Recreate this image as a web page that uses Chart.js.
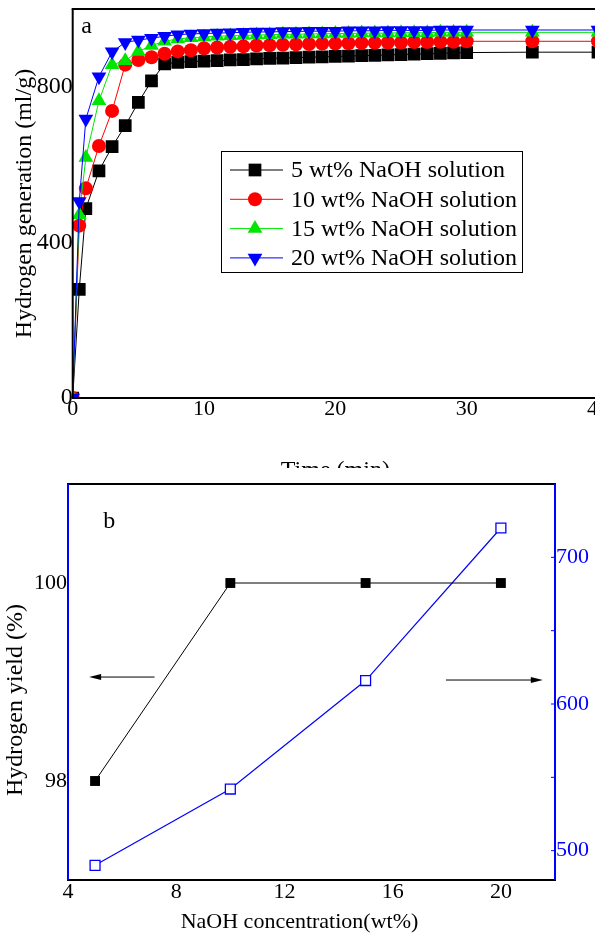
<!DOCTYPE html>
<html>
<head>
<meta charset="utf-8">
<script src="https://cdn.jsdelivr.net/npm/chart.js@4.4.1/dist/chart.umd.min.js"></script>
<style>
  html, body { margin: 0; padding: 0; background: #fff; overflow: hidden; }
  #page { position: relative; width: 595px; height: 938px; overflow: hidden; background: #fff; }
  #topWrap { position: absolute; left: 0; top: 0; }
  #botWrap { position: absolute; left: 0; top: 468px; background: #fff; }
  canvas { display: block; }
</style>
</head>
<body>
<div id="page">
  <div id="topWrap"><canvas id="chartA" width="620" height="490" style="width:620px;height:490px"></canvas></div>
  <div id="botWrap"><canvas id="chartB" width="640" height="470" style="width:640px;height:470px"></canvas></div>
</div>
<script>
// (a) hydrogen generation vs time
var timeMin = [0, 0.5, 1, 2, 3, 4, 5, 6, 7, 8, 9, 10, 11, 12, 13, 14, 15, 16, 17, 18, 19, 20,
               21, 22, 23, 24, 25, 26, 27, 28, 29, 30, 35, 40];
var naoh5  = [0, 279, 487, 584, 646, 700, 760, 815, 859, 863, 865, 866, 867, 869, 870, 872, 873, 874, 875, 876,
              877, 878, 879, 880, 881, 882, 883, 884, 885, 886, 887, 888, 889, 889];
var naoh10 = [0, 443, 539, 648, 738, 857, 869, 876, 885, 891, 894, 899, 901, 903, 904, 906, 907, 908, 909, 910,
              911, 911, 912, 913, 913, 914, 914, 915, 915, 916, 916, 917, 917, 917];
var naoh15 = [0, 471, 618, 764, 857, 867, 891, 906, 917, 923, 926, 928, 930, 931, 932, 933, 934, 935, 935, 936,
              936, 937, 937, 938, 938, 938, 939, 939, 939, 940, 940, 940, 940, 940];
var naoh20 = [0, 505, 717, 826, 890, 914, 920, 925, 930, 934, 936, 937, 938, 939, 940, 941, 941, 942, 942, 943,
              943, 943, 944, 944, 944, 945, 945, 945, 945, 946, 946, 946, 946, 946];
var seriesNames = ["5 wt% NaOH solution", "10 wt% NaOH solution", "15 wt% NaOH solution", "20 wt% NaOH solution"];

// (b) yield and rate vs NaOH concentration
var naohConc = [5, 10, 15, 20];
var h2Yield  = [98, 100, 100, 100];
var h2Rate   = [490, 542, 616, 720];

var serif = "'Liberation Serif', 'Times New Roman', serif";
Chart.defaults.font.family = serif;
Chart.defaults.color = "#000";

function pts(xs, ys) {
  return xs.map(function (x, i) { return { x: x, y: ys[i] }; });
}

// fixed axis sizes, no extra room for overhanging labels
function fixW(w) {
  return function (s) { s.width = w; s.paddingTop = 0; s.paddingBottom = 0; };
}
function fixH(h) {
  return function (s) { s.height = h; s.paddingLeft = 0; s.paddingRight = 0; };
}

// box round the plot + small inward ticks
var frameTicks = {
  id: "frameTicks",
  afterDatasetsDraw: function (chart, args, o) {
    var ctx = chart.ctx, a = chart.chartArea;
    ctx.save();
    ctx.lineWidth = 1;
    (o.ticks || []).forEach(function (t) {
      var sc = chart.scales[t.scale];
      ctx.strokeStyle = t.color;
      ctx.beginPath();
      sc.ticks.forEach(function (tk) {
        if (t.every && tk.value % t.every !== 0) return;
        var p = sc.getPixelForValue(tk.value);
        t.sides.forEach(function (s) {
          if (s === "bottom") { ctx.moveTo(p, a.bottom); ctx.lineTo(p, a.bottom - 4); }
          if (s === "top") { ctx.moveTo(p, a.top); ctx.lineTo(p, a.top + 4); }
          if (s === "left") { ctx.moveTo(a.left, p); ctx.lineTo(a.left + 4, p); }
          if (s === "right") { ctx.moveTo(a.right, p); ctx.lineTo(a.right - 4, p); }
        });
      });
      ctx.stroke();
    });
    ctx.lineWidth = 2;
    var c = o.colors;
    ctx.strokeStyle = c.top; ctx.beginPath(); ctx.moveTo(a.left - 1, a.top); ctx.lineTo(a.right + 1, a.top); ctx.stroke();
    ctx.strokeStyle = c.bottom; ctx.beginPath(); ctx.moveTo(a.left - 1, a.bottom); ctx.lineTo(a.right + 1, a.bottom); ctx.stroke();
    ctx.strokeStyle = c.left; ctx.beginPath(); ctx.moveTo(a.left, a.top); ctx.lineTo(a.left, a.bottom); ctx.stroke();
    ctx.strokeStyle = c.right; ctx.beginPath(); ctx.moveTo(a.right, a.top); ctx.lineTo(a.right, a.bottom); ctx.stroke();
    ctx.restore();
  }
};

// legend with a line through each marker
var lineLegend = {
  id: "lineLegend",
  afterDraw: function (chart, args, o) {
    if (!o.box) return;
    var ctx = chart.ctx, b = o.box;
    ctx.save();
    ctx.fillStyle = "#fff";
    ctx.fillRect(b.x, b.y, b.w, b.h);
    ctx.strokeStyle = "#000";
    ctx.lineWidth = 1;
    ctx.strokeRect(b.x + 0.5, b.y + 0.5, b.w, b.h);
    chart.data.datasets.forEach(function (ds, i) {
      var y = b.y + o.first + i * o.rowH;
      ctx.strokeStyle = ds.borderColor;
      ctx.lineWidth = 1;
      ctx.beginPath();
      ctx.moveTo(b.x + 9, y); ctx.lineTo(b.x + 62, y);
      ctx.stroke();
      ctx.fillStyle = ds.pointBackgroundColor;
      ctx.strokeStyle = ds.borderColor;
      Chart.helpers.drawPoint(ctx, {
        pointStyle: ds.pointStyle, radius: ds.pointRadius,
        rotation: ds.pointRotation || 0, borderWidth: 0
      }, b.x + 34, y);
      ctx.fillStyle = "#000";
      ctx.font = o.font;
      ctx.textBaseline = "middle";
      ctx.textAlign = "left";
      ctx.fillText(ds.label, b.x + 70, y + 1);
    });
    ctx.restore();
  }
};

// panel letters, arrows, titles that sit off-centre
var notes = {
  id: "notes",
  afterDraw: function (chart, args, o) {
    var ctx = chart.ctx, xs = chart.scales.x, a = chart.chartArea;
    ctx.save();
    (o.texts || []).forEach(function (t) {
      var ys = chart.scales[t.axis];
      ctx.fillStyle = t.color || "#000";
      ctx.font = t.font;
      ctx.textAlign = "left";
      ctx.textBaseline = "middle";
      ctx.fillText(t.text, xs.getPixelForValue(t.x), ys.getPixelForValue(t.y));
    });
    (o.arrows || []).forEach(function (r) {
      var ys = chart.scales[r.axis];
      var x0 = xs.getPixelForValue(r.x0), x1 = xs.getPixelForValue(r.x1), y = ys.getPixelForValue(r.y);
      var dir = x1 > x0 ? 1 : -1;
      ctx.strokeStyle = "#000"; ctx.fillStyle = "#000"; ctx.lineWidth = 1;
      ctx.beginPath(); ctx.moveTo(x0, y); ctx.lineTo(x1 - dir * 8, y); ctx.stroke();
      ctx.beginPath();
      ctx.moveTo(x1, y); ctx.lineTo(x1 - dir * 12, y - 3); ctx.lineTo(x1 - dir * 12, y + 3);
      ctx.closePath(); ctx.fill();
    });
    (o.htitles || []).forEach(function (t) {
      ctx.fillStyle = t.color || "#000";
      ctx.font = t.font;
      ctx.textAlign = "center";
      ctx.textBaseline = "middle";
      ctx.fillText(t.text, (a.left + a.right) / 2 + t.dx, a.bottom + t.dy);
    });
    (o.vtitles || []).forEach(function (t) {
      ctx.fillStyle = t.color || "#000";
      ctx.font = t.font;
      ctx.translate(t.x, (a.top + a.bottom) / 2 + t.dy);
      ctx.rotate(-Math.PI / 2);
      ctx.textAlign = "center";
      ctx.textBaseline = "middle";
      ctx.fillText(t.text, 0, 0);
      ctx.setTransform(1, 0, 0, 1, 0, 0);
    });
    ctx.restore();
  }
};

function lineSet(label, ys, color, style, radius, rot, order) {
  return {
    label: label, data: pts(timeMin, ys),
    borderColor: color, backgroundColor: color, borderWidth: 1,
    pointStyle: style, pointRadius: radius, pointHoverRadius: radius, pointRotation: rot,
    pointBackgroundColor: color, pointBorderWidth: 0,
    tension: 0, fill: false, order: order
  };
}

new Chart(document.getElementById("chartA"), {
  type: "line",
  data: {
    datasets: [
      lineSet(seriesNames[0], naoh5, "#000000", "rect", 9, 0, 4),
      lineSet(seriesNames[1], naoh10, "#ff0000", "circle", 7, 0, 3),
      lineSet(seriesNames[2], naoh15, "#00e600", "triangle", 8.5, 0, 2),
      lineSet(seriesNames[3], naoh20, "#0000ff", "triangle", 8.5, 180, 1)
    ]
  },
  options: {
    responsive: false,
    animation: false,
    layout: { padding: { left: 0, top: 8, right: 22, bottom: 0 } },
    plugins: {
      legend: { display: false },
      tooltip: { enabled: false },
      frameTicks: {
        colors: { top: "#000", bottom: "#000", left: "#000", right: "#000" },
        ticks: [{ scale: "x", sides: ["bottom", "top"], color: "#000" },
                { scale: "y", sides: ["left"], color: "#000" }]
      },
      lineLegend: {
        box: { x: 221, y: 151, w: 301, h: 121 }, first: 19, rowH: 29.3,
        font: "24px " + serif
      },
      notes: { texts: [{ text: "a", x: 0.65, y: 955, axis: "y", font: "24px " + serif }] }
    },
    scales: {
      x: {
        type: "linear", min: 0, max: 40,
        afterFit: fixH(92),
        border: { display: false },
        grid: { display: false, drawTicks: false },
        ticks: {
          stepSize: 5, padding: -2, autoSkip: false, maxRotation: 0,
          font: { size: 22 },
          callback: function (v) { return v % 10 === 0 ? String(v) : ""; }
        },
        title: { display: true, text: "Time (min)", font: { size: 24 }, padding: { top: 0, bottom: 5 } }
      },
      y: {
        min: 0, max: 1000,
        afterFit: fixW(72.7),
        border: { display: false },
        grid: { display: false, drawTicks: false },
        ticks: {
          stepSize: 200, padding: 0, autoSkip: false,
          font: { size: 24 },
          callback: function (v) { return v % 400 === 0 ? String(v) : ""; }
        },
        title: { display: true, text: "Hydrogen generation (ml/g)", font: { size: 24 }, padding: { top: 10, bottom: 0 } }
      }
    }
  },
  plugins: [frameTicks, lineLegend, notes]
});

new Chart(document.getElementById("chartB"), {
  type: "line",
  data: {
    datasets: [
      {
        label: "Hydrogen yield", data: pts(naohConc, h2Yield), yAxisID: "y",
        borderColor: "#000", borderWidth: 1, pointStyle: "rect", pointRadius: 7, pointHoverRadius: 7,
        pointBackgroundColor: "#000", pointBorderWidth: 0, tension: 0, fill: false
      },
      {
        label: "Hydrogen generation rate", data: pts(naohConc, h2Rate), yAxisID: "y2",
        borderColor: "#0000ff", borderWidth: 1.2, pointStyle: "rect", pointRadius: 7, pointHoverRadius: 7,
        pointBackgroundColor: "#fff", pointBorderColor: "#0000ff", pointBorderWidth: 1.3, tension: 0, fill: false
      }
    ]
  },
  options: {
    responsive: false,
    animation: false,
    layout: { padding: { left: 0, top: 16, right: 0, bottom: 0 } },
    plugins: {
      legend: { display: false },
      tooltip: { enabled: false },
      frameTicks: {
        colors: { top: "#000", bottom: "#000", left: "#0000ff", right: "#0000ff" },
        ticks: [{ scale: "x", sides: ["bottom", "top"], color: "#000" },
                { scale: "y2", sides: ["right"], color: "#0000ff", every: 50 }]
      },
      notes: {
        texts: [{ text: "b", x: 5.3, y: 100.62, axis: "y", font: "24px " + serif }],
        arrows: [{ x0: 7.2, x1: 4.78, y: 99.05, axis: "y" },
                 { x0: 17.97, x1: 21.55, y: 99.02, axis: "y" }],
        htitles: [{ text: "NaOH concentration(wt%)", dx: -12, dy: 42, font: "22px " + serif }],
        vtitles: [{ text: "Hydrogen yield (%)", x: 16, dy: 18, font: "24px " + serif }]
      }
    },
    scales: {
      x: {
        type: "linear", min: 4, max: 22,
        afterFit: fixH(58),
        border: { display: false },
        grid: { display: false, drawTicks: false },
        ticks: {
          stepSize: 2, padding: -1, autoSkip: false, maxRotation: 0,
          font: { size: 22 },
          callback: function (v) { return v % 4 === 0 ? String(v) : ""; }
        }
      },
      y: {
        position: "left", min: 97, max: 101,
        afterFit: fixW(68),
        border: { display: false },
        grid: { display: false, drawTicks: false },
        ticks: {
          stepSize: 1, padding: 1, autoSkip: false,
          font: { size: 22 },
          callback: function (v) { return v === 98 || v === 100 ? String(v) : ""; }
        }
      },
      y2: {
        position: "right", min: 480, max: 750,
        afterFit: fixW(85),
        border: { display: false },
        grid: { display: false, drawTicks: false },
        ticks: {
          stepSize: 50, padding: 1, autoSkip: false, color: "#0000ff",
          font: { size: 22 },
          callback: function (v) { return v % 100 === 0 ? String(v) : ""; }
        }
      }
    }
  },
  plugins: [frameTicks, notes]
});
</script>
</body>
</html>
